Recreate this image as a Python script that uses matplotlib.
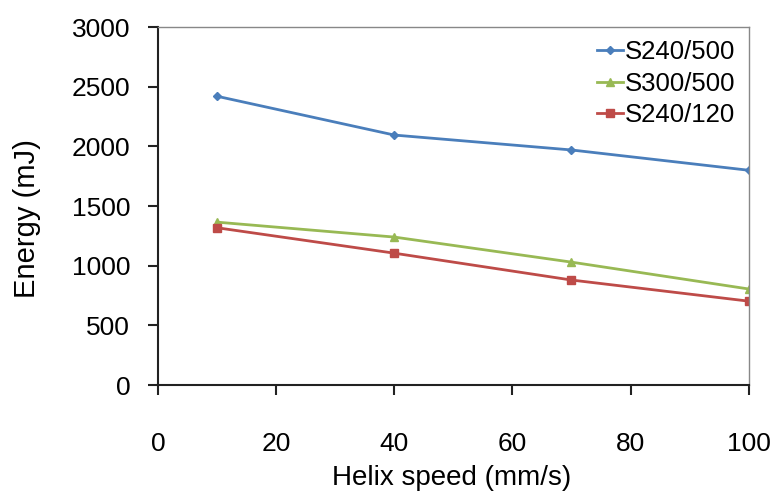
import matplotlib
matplotlib.use("Agg")
import matplotlib.pyplot as plt

speed = [10, 40, 70, 100]
s240_500 = [2420, 2095, 1970, 1800]
s300_500 = [1365, 1240, 1030, 805]
s240_120 = [1318, 1105, 880, 703]
series_names = ["S240/500", "S300/500", "S240/120"]
xticks = [0, 20, 40, 60, 80, 100]
yticks = [0, 500, 1000, 1500, 2000, 2500, 3000]

plt.rcParams['font.family'] = ['Liberation Sans', 'DejaVu Sans']

fig = plt.figure(figsize=(7.71, 4.94), dpi=100)
ax = fig.add_axes([0.205, 0.2206, 0.766, 0.7246])

ax.plot(speed, s240_500, color='#4A7EBB', lw=2.0, marker='D', ms=4, label=series_names[0])
ax.plot(speed, s300_500, color='#98B954', lw=2.0, marker='^', ms=6, label=series_names[1])
ax.plot(speed, s240_120, color='#BE4B48', lw=2.0, marker='s', ms=6, label=series_names[2])

ax.set_xlim(0, 100)
ax.set_ylim(0, 3000)
ax.set_xticks(xticks)
ax.set_yticks(yticks)

for s in ['left', 'bottom']:
    ax.spines[s].set_color('#222222')
    ax.spines[s].set_linewidth(1.5)
for s in ['top', 'right']:
    ax.spines[s].set_color('#888888')
    ax.spines[s].set_linewidth(1.0)

ax.tick_params(axis='both', direction='out', length=7, width=1.5, color='#222222', labelsize=19)
ax.tick_params(axis='x', pad=27)
ax.tick_params(axis='y', pad=13)

ax.set_xlabel("Helix speed (mm/s)", fontsize=20, va='center')
ax.xaxis.set_label_coords(0.497, -0.26)
ax.set_ylabel("Energy (mJ)", fontsize=21, va='center')
ax.yaxis.set_label_coords(-0.222, 0.466)

leg = ax.legend(loc='upper right', frameon=False, fontsize=18.5, handlelength=1.0,
                handletextpad=0.1, labelspacing=0.3, borderaxespad=0.1)

fig.savefig("out.png", dpi=100)
